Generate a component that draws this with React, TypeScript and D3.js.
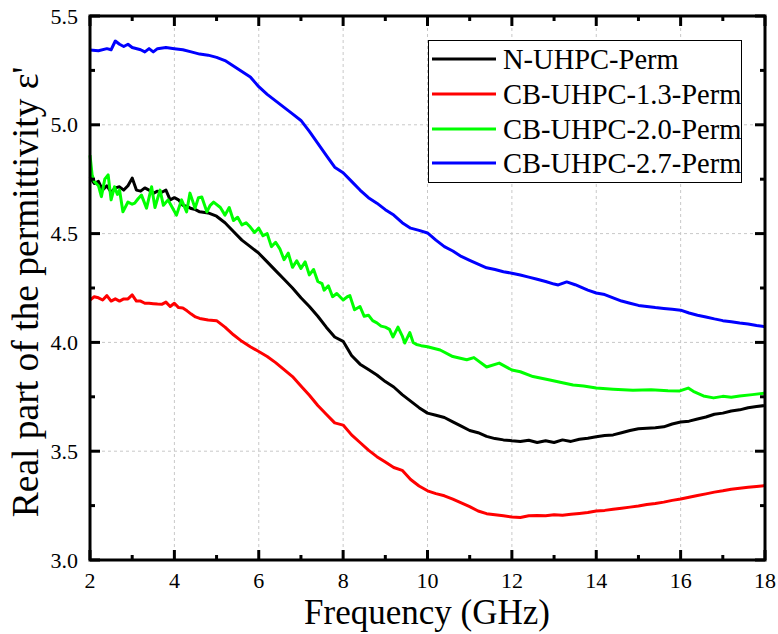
import React from "react";
import * as d3 from "d3";

const seriesNames = ["N-UHPC-Perm", "CB-UHPC-1.3-Perm", "CB-UHPC-2.0-Perm", "CB-UHPC-2.7-Perm"];
const seriesColors = ["#000000", "#ff0000", "#00ff00", "#0000ff"];

const xTicks = [2, 4, 6, 8, 10, 12, 14, 16, 18];
const yTicks = [3.0, 3.5, 4.0, 4.5, 5.0, 5.5];

const nX = [2.0,2.1,2.2,2.3,2.4,2.5,2.6,2.7,2.8,2.9,3.0,3.1,3.2,3.3,3.4,3.5,3.6,3.7,3.8,3.9,4.0,4.1,4.2,4.3,4.4,4.5,4.6,4.8,5.0,5.2,5.4,5.6,5.8,6.0,6.2,6.4,6.6,6.8,7.0,7.2,7.4,7.6,7.8,8.0,8.2,8.4,8.6,8.8,9.0,9.2,9.4,9.6,9.8,10.0,10.2,10.4,10.6,10.8,11.0,11.2,11.4,11.6,11.8,12.0,12.2,12.4,12.6,12.8,13.0,13.2,13.4,13.6,13.8,14.0,14.2,14.4,14.6,14.8,15.0,15.2,15.4,15.6,15.8,16.0,16.2,16.4,16.6,16.8,17.0,17.2,17.4,17.6,17.8,18.0];
const nY = [4.76,4.73,4.74,4.70,4.72,4.69,4.71,4.715,4.70,4.72,4.755,4.70,4.695,4.71,4.70,4.685,4.695,4.69,4.70,4.655,4.665,4.655,4.63,4.625,4.615,4.61,4.60,4.595,4.58,4.55,4.51,4.47,4.44,4.41,4.37,4.33,4.29,4.25,4.205,4.165,4.12,4.07,4.025,4.005,3.94,3.90,3.875,3.85,3.82,3.795,3.76,3.73,3.70,3.675,3.665,3.655,3.635,3.615,3.595,3.585,3.568,3.558,3.552,3.548,3.545,3.55,3.54,3.548,3.54,3.552,3.545,3.555,3.56,3.566,3.572,3.575,3.585,3.595,3.603,3.606,3.608,3.612,3.625,3.634,3.638,3.648,3.657,3.67,3.675,3.685,3.69,3.70,3.705,3.71];

const r13X = [2.0,2.1,2.2,2.3,2.4,2.5,2.6,2.7,2.8,2.9,3.0,3.1,3.2,3.3,3.4,3.5,3.6,3.7,3.8,3.9,4.0,4.1,4.2,4.3,4.4,4.5,4.6,4.8,5.0,5.2,5.4,5.6,5.8,6.0,6.2,6.4,6.6,6.8,7.0,7.2,7.4,7.6,7.8,8.0,8.2,8.4,8.6,8.8,9.0,9.2,9.4,9.6,9.8,10.0,10.2,10.4,10.6,10.8,11.0,11.2,11.4,11.6,11.8,12.0,12.2,12.4,12.6,12.8,13.0,13.2,13.4,13.6,13.8,14.0,14.2,14.4,14.6,14.8,15.0,15.2,15.4,15.6,15.8,16.0,16.2,16.4,16.6,16.8,17.0,17.2,17.4,17.6,17.8,18.0];
const r13Y = [4.195,4.21,4.205,4.195,4.215,4.19,4.20,4.19,4.20,4.20,4.218,4.19,4.19,4.18,4.18,4.178,4.176,4.175,4.185,4.165,4.18,4.16,4.158,4.145,4.13,4.117,4.11,4.103,4.10,4.07,4.035,4.005,3.98,3.958,3.935,3.907,3.875,3.843,3.80,3.757,3.71,3.67,3.63,3.62,3.575,3.54,3.505,3.475,3.45,3.425,3.412,3.37,3.34,3.318,3.305,3.295,3.28,3.263,3.245,3.225,3.213,3.208,3.203,3.198,3.195,3.203,3.205,3.203,3.208,3.206,3.21,3.214,3.218,3.225,3.228,3.233,3.238,3.243,3.248,3.255,3.26,3.266,3.274,3.28,3.288,3.296,3.304,3.312,3.318,3.325,3.33,3.334,3.338,3.342];

const c20X = [2.0,2.05,2.1,2.2,2.27,2.35,2.43,2.5,2.58,2.65,2.7,2.78,2.9,3.0,3.06,3.14,3.22,3.34,3.46,3.54,3.66,3.74,3.85,3.95,4.05,4.17,4.29,4.37,4.49,4.57,4.65,4.77,4.85,4.93,5.09,5.2,5.3,5.4,5.5,5.6,5.7,5.8,5.9,6.0,6.1,6.2,6.3,6.4,6.5,6.6,6.7,6.8,6.9,7.0,7.1,7.2,7.3,7.4,7.5,7.55,7.65,7.75,7.85,8.0,8.1,8.16,8.27,8.4,8.5,8.6,8.7,8.8,8.9,9.0,9.1,9.18,9.3,9.4,9.46,9.58,9.66,9.74,9.85,10.0,10.3,10.6,10.93,11.1,11.4,11.7,12.0,12.2,12.5,12.9,13.2,13.45,13.7,14.0,14.4,14.87,15.3,15.7,15.98,16.18,16.3,16.54,16.78,17.0,17.2,17.4,17.7,18.0];
const c20Y = [4.86,4.77,4.74,4.72,4.67,4.75,4.77,4.655,4.715,4.68,4.70,4.60,4.645,4.635,4.64,4.66,4.677,4.617,4.715,4.62,4.70,4.63,4.655,4.62,4.585,4.655,4.60,4.686,4.617,4.665,4.668,4.60,4.63,4.645,4.62,4.585,4.62,4.56,4.575,4.54,4.55,4.53,4.505,4.525,4.49,4.50,4.44,4.46,4.43,4.38,4.41,4.345,4.375,4.34,4.37,4.31,4.335,4.28,4.27,4.24,4.26,4.21,4.225,4.195,4.21,4.215,4.15,4.165,4.12,4.125,4.10,4.09,4.075,4.07,4.06,4.025,4.07,4.03,3.997,4.045,4.00,3.99,3.985,3.98,3.965,3.935,3.92,3.93,3.887,3.905,3.873,3.865,3.843,3.827,3.815,3.804,3.80,3.79,3.785,3.78,3.782,3.778,3.777,3.79,3.775,3.754,3.745,3.752,3.748,3.754,3.76,3.767];

const c27X = [2.0,2.2,2.4,2.5,2.6,2.7,2.8,2.9,3.0,3.2,3.3,3.4,3.5,3.6,3.8,4.0,4.2,4.4,4.6,4.8,5.0,5.2,5.4,5.6,5.8,6.0,6.2,6.4,6.6,6.8,7.0,7.2,7.4,7.6,7.8,8.0,8.2,8.4,8.6,8.8,9.0,9.2,9.4,9.6,9.8,10.0,10.2,10.4,10.6,10.8,11.0,11.2,11.4,11.6,11.8,12.0,12.2,12.4,12.6,12.8,13.0,13.1,13.3,13.5,13.8,14.0,14.2,14.4,14.6,14.8,15.0,15.2,15.4,15.6,15.8,16.0,16.2,16.4,16.6,16.8,17.0,17.2,17.4,17.6,17.8,18.0];
const c27Y = [5.344,5.34,5.35,5.345,5.385,5.37,5.36,5.37,5.355,5.345,5.335,5.35,5.335,5.35,5.355,5.35,5.345,5.335,5.325,5.32,5.31,5.295,5.27,5.245,5.22,5.175,5.14,5.11,5.08,5.05,5.02,4.97,4.915,4.86,4.805,4.78,4.74,4.70,4.665,4.64,4.61,4.585,4.55,4.525,4.515,4.503,4.47,4.44,4.42,4.395,4.377,4.36,4.343,4.335,4.325,4.318,4.31,4.30,4.29,4.28,4.268,4.264,4.278,4.265,4.24,4.227,4.22,4.205,4.19,4.18,4.17,4.165,4.16,4.156,4.152,4.148,4.135,4.125,4.117,4.108,4.1,4.095,4.089,4.085,4.078,4.072];

const seriesX = [nX, r13X, c20X, c27X];
const seriesY = [nY, r13Y, c20Y, c27Y];

const W = 778, H = 634;
const L = 90, R = 765, T = 16, B = 560;
const font = '"Liberation Serif", "Times New Roman", Times, serif';

export default function App() {
  const x = d3.scaleLinear().domain([2, 18]).range([L, R]);
  const y = d3.scaleLinear().domain([3.0, 5.5]).range([B, T]);
  const line = d3.line<[number, number]>().x(d => x(d[0])).y(d => y(d[1]));
  const xMinor = d3.range(3, 18, 2);
  const yMinor = d3.range(3.25, 5.5, 0.5);
  const legendRows = [59, 94, 129, 163];
  const ts = { fontFamily: font };

  return (
    <svg width={W} height={H} style={{ position: "absolute", left: 0, top: 0, background: "#fff", fontFamily: font }}>
      <rect x={0} y={0} width={W} height={H} fill="#fff" />
      {xTicks.slice(1, -1).map(t => (
        <line key={"gx" + t} x1={x(t)} x2={x(t)} y1={T} y2={B} stroke="#c8c8c8" strokeWidth={1} strokeDasharray="3,3" />
      ))}
      {yTicks.slice(1, -1).map(t => (
        <line key={"gy" + t} x1={L} x2={R} y1={y(t)} y2={y(t)} stroke="#c8c8c8" strokeWidth={1} strokeDasharray="3,3" />
      ))}
      {seriesX.map((xs, i) => (
        <path key={"s" + i} d={line(xs.map((v, j) => [v, seriesY[i][j]]) as [number, number][]) || ""}
          fill="none" stroke={seriesColors[i]} strokeWidth={3} strokeLinejoin="round" />
      ))}
      {xTicks.map(t => (
        <g key={"tx" + t}>
          <line x1={x(t)} x2={x(t)} y1={B} y2={B - 10} stroke="#000" strokeWidth={3} />
          <line x1={x(t)} x2={x(t)} y1={T} y2={T + 10} stroke="#000" strokeWidth={3} />
          <text x={x(t)} y={588} fontSize={22} textAnchor="middle" fill="#000" style={ts}>{t}</text>
        </g>
      ))}
      {xMinor.map(t => (
        <g key={"mx" + t}>
          <line x1={x(t)} x2={x(t)} y1={B} y2={B - 5} stroke="#000" strokeWidth={3} />
          <line x1={x(t)} x2={x(t)} y1={T} y2={T + 5} stroke="#000" strokeWidth={3} />
        </g>
      ))}
      {yTicks.map(t => (
        <g key={"ty" + t}>
          <line x1={L} x2={L + 10} y1={y(t)} y2={y(t)} stroke="#000" strokeWidth={3} />
          <line x1={R} x2={R - 10} y1={y(t)} y2={y(t)} stroke="#000" strokeWidth={3} />
          <text x={78} y={y(t) + 7.5} fontSize={22} textAnchor="end" fill="#000" style={ts}>{t.toFixed(1)}</text>
        </g>
      ))}
      {yMinor.map(t => (
        <g key={"my" + t}>
          <line x1={L} x2={L + 5} y1={y(t)} y2={y(t)} stroke="#000" strokeWidth={3} />
          <line x1={R} x2={R - 5} y1={y(t)} y2={y(t)} stroke="#000" strokeWidth={3} />
        </g>
      ))}
      <rect x={L} y={T} width={R - L} height={B - T} fill="none" stroke="#000" strokeWidth={3} />
      <rect x={428.5} y={40.5} width={313} height={142} fill="#fff" stroke="#000" strokeWidth={1} />
      {seriesNames.map((n, i) => (
        <g key={"lg" + i}>
          <line x1={432} x2={496} y1={legendRows[i]} y2={legendRows[i]} stroke={seriesColors[i]} strokeWidth={3} />
          <text x={503} y={legendRows[i] + 10} fontSize={28.5} fill="#000" style={ts}>{n}</text>
        </g>
      ))}
      <text x={427} y={624} fontSize={35} textAnchor="middle" fill="#000" style={ts}>Frequency (GHz)</text>
      <text transform={`translate(38, 292) rotate(-90)`} fontSize={37.5} textAnchor="middle" fill="#000" style={ts}>Real part of the permittivity ε'</text>
    </svg>
  );
}
